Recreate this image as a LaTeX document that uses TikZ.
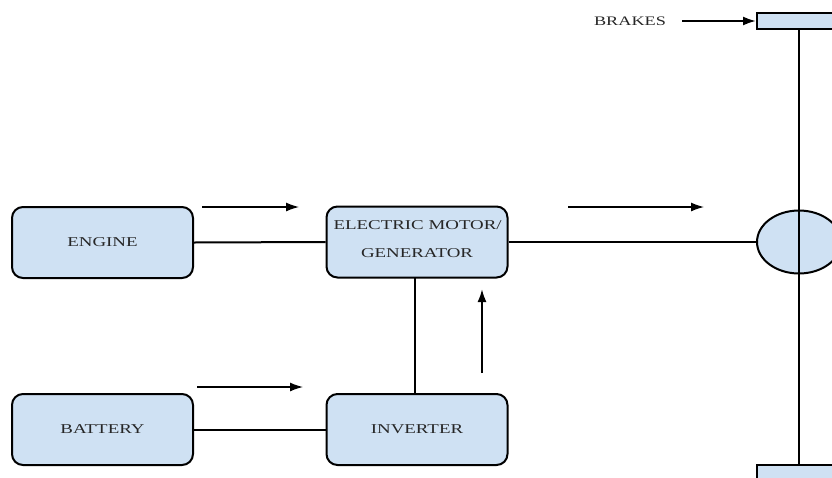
\documentclass[tikz,border=0pt]{standalone}
\usepackage{fontspec}
\newfontfamily\lab[FakeStretch=1.4]{Liberation Serif}
\usetikzlibrary{shapes.geometric,arrows.meta}
\definecolor{boxfill}{HTML}{CFE1F3}
\begin{document}
\begin{tikzpicture}[x=1pt,y=-1pt,
  lbl/.style={font=\lab\fontsize{13.5}{16}\selectfont,text=black!85},
  blk/.style={draw=black,line width=2pt,fill=boxfill,rounded corners=11pt,minimum width=181pt,minimum height=71pt,inner sep=0pt,lbl},
  conn/.style={line width=2pt},
  flow/.style={line width=1.3pt,-{Latex[length=13pt,width=9pt]}},
  brk/.style={draw=black,line width=2pt,fill=boxfill,minimum width=84pt,minimum height=16pt,inner sep=0pt}]
\useasboundingbox (0,0) rectangle (832,477);
\clip (0,0) rectangle (832,477);
\fill[white] (0,0) rectangle (832,477);
\node[blk] (engine) at (102.5,242.5) {ENGINE};
\node[blk] (emg) at (417,242) {};
\begin{scope}
\clip (emg.south west) rectangle (emg.north east);
\node[lbl,anchor=west] (emgA) at (330,225) {ELECTRIC MOTOR/};
\end{scope}
\node[lbl] (emgB) at (417,253) {GENERATOR};
\node[blk] (battery) at (102.5,429.5) {BATTERY};
\node[blk] (inverter) at (417,429.5) {INVERTER};
\node[draw=black,line width=2pt,fill=boxfill,ellipse,minimum width=84pt,minimum height=63pt,inner sep=0pt] (wheel) at (799,242) {};
\node[brk] (btop) at (799,21) {};
\node[brk] (bbot) at (799,473) {};
\node[font=\lab\fontsize{13}{14}\selectfont,text=black!85] (brakes) at (630,21) {BRAKES};
% connectors
\draw[conn] (engine.east) -- (emg.west);
\draw[conn] (emg.east) -- (wheel.west);
\draw[conn] (battery.east) -- (inverter.west);
\draw[conn] (415,278) -- (415,394);
\draw[conn] (btop.south) -- (bbot.north);
% flow arrows
\coordinate (a1) at (202,207); \coordinate (a2) at (299,207);
\coordinate (b1) at (568,207); \coordinate (b2) at (704,207);
\coordinate (c1) at (197,387); \coordinate (c2) at (303,387);
\coordinate (d1) at (482,373); \coordinate (d2) at (482,289);
\coordinate (e1) at (682,21);
\draw[flow] (a1) -- (a2);
\draw[flow] (b1) -- (b2);
\draw[flow] (c1) -- (c2);
\draw[flow,line width=2pt] (d1) -- (d2);
\draw[flow,line width=2pt] (e1) -- (btop.west);
\end{tikzpicture}
\end{document}
